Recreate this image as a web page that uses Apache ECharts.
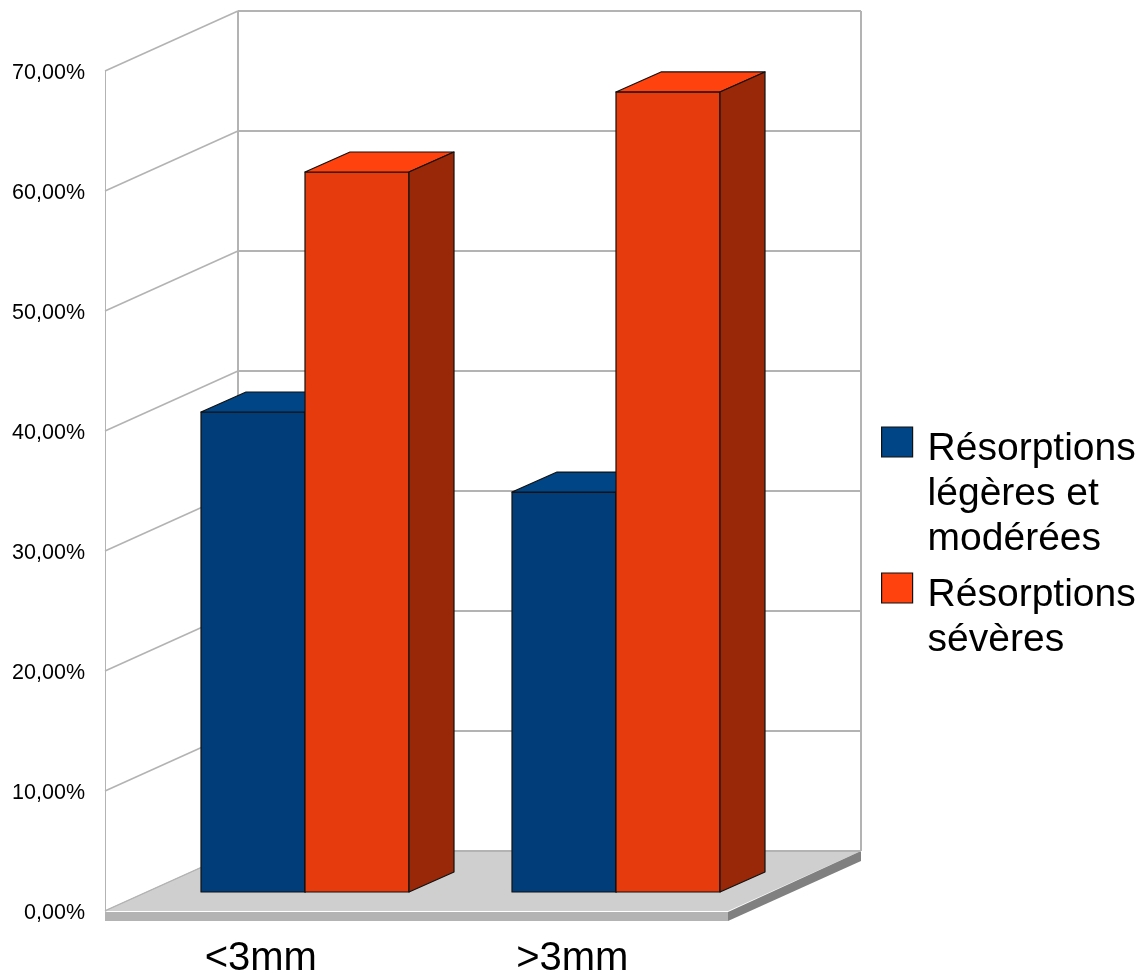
<!DOCTYPE html>
<html>
<head>
<meta charset="utf-8">
<style>html,body{margin:0;padding:0;background:#fff}#c{width:1140px;height:974px}</style>
<script src="https://cdn.jsdelivr.net/npm/echarts@6/dist/echarts.min.js"></script>
</head>
<body>
<div id="c"></div>
<script>
const categories = ['<3mm', '>3mm'];
const seriesNames = ['Résorptions\nlégères et\nmodérées', 'Résorptions\nsévères'];
const mildModerate = [40, 33.33];
const severe = [60, 66.67];
const yTicks = [0, 10, 20, 30, 40, 50, 60, 70];

const FONT = '"Liberation Sans", Arial, sans-serif';
const GRID = '#b3b3b3';
const EDGE = '#111111';
// Perspective of the pseudo-3D box
const WALL_DX = 133, WALL_DY = -60;     // depth of the whole chart box
const BAR_OFF_X = 44, BAR_OFF_Y = -19;  // bars stand in the middle of the floor
const BAR_DX = 45, BAR_DY = -20;        // depth of a bar
const BAR_W = 104;
const SLAB = 10;

function poly(points, fill, stroke, lw) {
  return { type: 'polygon', shape: { points },
    style: { fill, stroke: stroke || null, lineWidth: lw || 0, lineJoin: 'round' } };
}
function seg(x1, y1, x2, y2, lw) {
  return { type: 'line', shape: { x1, y1, x2, y2 },
    style: { stroke: GRID, lineWidth: lw, fill: null } };
}

function renderWall(params, api) {
  const r = params.coordSys;
  const y = api.coord([0, api.value(1)])[1];
  const x0 = r.x, x1 = r.x + r.width;
  const kids = [];
  kids.push(seg(x0, y, x0 + WALL_DX, y + WALL_DY, 1.6));
  kids.push(seg(x0 + WALL_DX, y + WALL_DY, x1 + WALL_DX, y + WALL_DY, 2));
  if (params.dataIndex === 0) {
    const top = r.y + WALL_DY;
    kids.push(seg(x0 + WALL_DX, y + WALL_DY, x0 + WALL_DX, top, 2));
    kids.push(seg(x1 + WALL_DX, y + WALL_DY, x1 + WALL_DX, top, 2));
    kids.push(poly([[x0, y], [x1, y], [x1 + WALL_DX, y + WALL_DY], [x0 + WALL_DX, y + WALL_DY]], '#cfcfcf'));
    kids.push(poly([[x0, y + 1], [x1, y + 1], [x1, y + SLAB], [x0, y + SLAB]], '#b3b3b3'));
    kids.push(poly([[x1, y + 1], [x1 + WALL_DX, y + WALL_DY], [x1 + WALL_DX, y + WALL_DY + SLAB], [x1, y + SLAB]], '#808080'));
    kids.push(seg(x0, y, x0 + WALL_DX, y + WALL_DY, 1));
    kids.push(seg(x0 + WALL_DX, y + WALL_DY, x1 + WALL_DX, y + WALL_DY, 2));
  }
  return { type: 'group', children: kids };
}

function barRenderer(shift, front, top, side) {
  return function (params, api) {
    const p = api.coord([api.value(0), api.value(1)]);
    const base = api.coord([api.value(0), 0]);
    const l = Math.round(p[0] + BAR_OFF_X + shift * BAR_W);
    const r = l + BAR_W;
    const t = p[1] + BAR_OFF_Y;
    const b = base[1] + BAR_OFF_Y;
    return { type: 'group', children: [
      poly([[l, t], [r, t], [r, b], [l, b]], front, EDGE, 1.2),
      poly([[l, t], [l + BAR_DX, t + BAR_DY], [r + BAR_DX, t + BAR_DY], [r, t]], top, EDGE, 1.2),
      poly([[r, t], [r + BAR_DX, t + BAR_DY], [r + BAR_DX, b + BAR_DY], [r, b]], side, EDGE, 1.2)
    ] };
  };
}

const chart = echarts.init(document.getElementById('c'), null, { renderer: 'canvas' });

const legendText = { fontFamily: FONT, fontSize: 39, lineHeight: 45, color: '#000' };
function legendBlock(name, top, spacer) {
  return {
    show: true, orient: 'vertical', left: 881, top, padding: 0,
    data: [name], icon: 'rect', itemWidth: 31, itemHeight: 30, itemGap: 0,
    selectedMode: false,
    itemStyle: { borderColor: EDGE, borderWidth: 1.2 },
    // ECharts centres a legend text on its swatch; a blank first row lets the swatch sit beside the first line
    formatter: n => '{s| }\n' + n.split('\n').map(t => '{t|' + t + '}').join('\n'),
    textStyle: {
      ...legendText, padding: [0, 0, 0, 10],
      rich: { s: { fontSize: 10, lineHeight: spacer, fontFamily: FONT }, t: legendText }
    }
  };
}

chart.setOption({
  animation: false,
  backgroundColor: '#fff',
  grid: { left: 105, top: 71, width: 623, height: 840, containLabel: false, outerBoundsMode: 'none' },
  legend: [legendBlock(seriesNames[0], 322, 105), legendBlock(seriesNames[1], 513, 60)],
  xAxis: {
    type: 'category', data: categories,
    axisLine: { show: false }, axisTick: { show: false }, splitLine: { show: false },
    axisLabel: { fontFamily: FONT, fontSize: 40, color: '#000', margin: 28 }
  },
  yAxis: {
    type: 'value', min: 0, max: 70, interval: 10,
    axisLine: { show: true, lineStyle: { color: GRID, width: 1 } },
    axisTick: { show: false }, splitLine: { show: false },
    axisLabel: {
      color: '#000', margin: 20,
      formatter: v => '{t|' + v.toFixed(2).replace('.', ',') + '%}',
      rich: { t: { fontFamily: FONT, fontSize: 21.5, color: '#000', padding: [4, 0, 0, 0] } }
    }
  },
  series: [
    { type: 'custom', name: 'walls', silent: true, z: 1, renderItem: renderWall,
      data: yTicks.map(v => [0, v]), encode: { x: 0, y: 1 } },
    { type: 'custom', name: seriesNames[0], z: 2,
      itemStyle: { color: '#004586' },
      renderItem: barRenderer(-1, '#003d79', '#004586', '#00294f'),
      data: mildModerate.map((v, i) => [i, v]), encode: { x: 0, y: 1 } },
    { type: 'custom', name: seriesNames[1], z: 3,
      itemStyle: { color: '#ff420e' },
      renderItem: barRenderer(0, '#e63b0d', '#ff420e', '#992808'),
      data: severe.map((v, i) => [i, v]), encode: { x: 0, y: 1 } }
  ]
});
</script>
</body>
</html>
